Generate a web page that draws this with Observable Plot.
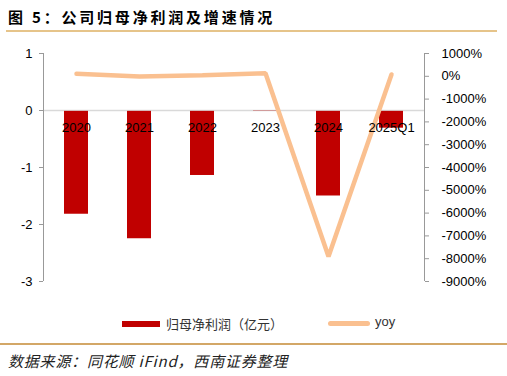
<!DOCTYPE html>
<html><head><meta charset="utf-8">
<script src="https://cdn.jsdelivr.net/npm/d3@7"></script>
<script src="https://cdn.jsdelivr.net/npm/@observablehq/plot@0.6"></script>
<style>
body{margin:0;background:#fff;font-family:"Liberation Sans","Noto Sans CJK SC",sans-serif;}
#wrap{position:relative;width:507px;height:376px;}
#title{position:absolute;left:8px;top:6px;font-size:15px;font-weight:bold;letter-spacing:2.8px;color:#000;font-family:"Noto Sans CJK SC",sans-serif;}
#topline{position:absolute;left:6px;width:491px;top:30px;height:1.5px;background:#E6C48A;}
#chart{position:absolute;left:0;top:31px;}
#legend{position:absolute;top:314px;left:0;width:507px;height:20px;font-size:13px;color:#333;font-family:"Noto Sans CJK SC",sans-serif;}
#botline{position:absolute;left:0;width:507px;top:343px;height:2px;background:#D3A767;}
#caption{position:absolute;left:8px;top:350px;font-size:15px;font-style:italic;letter-spacing:0.8px;color:#222;font-family:"Noto Sans CJK SC",sans-serif;}
</style></head>
<body><div id="wrap">
<div id="title">图 5：公司归母净利润及增速情况</div>
<div id="topline"></div>
<div id="chart"></div>
<div id="legend">
 <div style="position:absolute;left:122px;top:7px;width:38px;height:6px;background:#C00000"></div>
 <div style="position:absolute;left:166px;top:0px;">归母净利润（亿元）</div>
 <div style="position:absolute;left:328px;top:7px;width:42px;height:5px;border-radius:3px;background:#FAC090"></div>
 <div style="position:absolute;left:375px;top:0px;font-family:'Liberation Sans',sans-serif;">yoy</div>
</div>
<div id="botline"></div>
<div id="caption">数据来源：同花顺 iFind，西南证券整理</div>
</div>
<script>
const categories = ["2020","2021","2022","2023","2024","2025Q1"];
const profit = [-1.82, -2.25, -1.14, -0.01, -1.50, -0.31];
const yoy = [110, -10, 50, 135, -7900, 80];
const leftTicks = [1, 0, -1, -2, -3];
const rightTicks = [1000, 0, -1000, -2000, -3000, -4000, -5000, -6000, -7000, -8000, -9000];

const toLeft = v => v / 2500 + 0.6;
const toRight = v => (v - 0.6) * 2500;

const rows = categories.map((c, i) => ({cat: c, profit: profit[i], yoy: yoy[i], yl: toLeft(yoy[i])}));

const chart = Plot.plot({
  width: 507,
  height: 270,
  marginTop: 22,
  marginBottom: 20,
  marginLeft: 43,
  marginRight: 83,
  style: {fontFamily: "Liberation Sans, sans-serif", fontSize: "13px", color: "#000", background: "transparent"},
  x: {domain: categories, paddingInner: 0.62, paddingOuter: 0.31, axis: null},
  y: {domain: [-3, 1], axis: null},
  marks: [
    Plot.ruleY([0], {stroke: "#d9d9d9", strokeWidth: 1.5}),
    Plot.barY(rows, {x: "cat", y1: -0.015, y2: "profit", fill: "#C00000"}),
    Plot.line(rows, {x: "cat", y: "yl", stroke: "#FAC090", strokeWidth: 4.5, strokeLinejoin: "miter"}),
    Plot.text(rows, {x: "cat", y: 0, text: "cat", dy: 17, fill: "#000", fontSize: 13}),
    Plot.axisY({anchor: "left", ticks: leftTicks, tickFormat: d => d, stroke: "#999", tickSize: 4, tickPadding: 7, fontSize: 13}),
    Plot.axisY({anchor: "right", ticks: rightTicks.map(toLeft), tickFormat: d => Math.round(toRight(d)) + "%", stroke: "#999", tickSize: 4, tickPadding: 13, fontSize: 13}),
  ]
});
document.getElementById("chart").appendChild(chart);

// vertical axis lines
const svg = d3.select(chart);
const yS = chart.scale("y");
svg.append("line").attr("x1", 43.5).attr("x2", 43.5).attr("y1", yS.apply(1)).attr("y2", yS.apply(-3)).attr("stroke", "#999");
svg.append("line").attr("x1", 424.5).attr("x2", 424.5).attr("y1", yS.apply(toLeft(1000))).attr("y2", yS.apply(toLeft(-9000))).attr("stroke", "#999");
</script>
</body></html>
